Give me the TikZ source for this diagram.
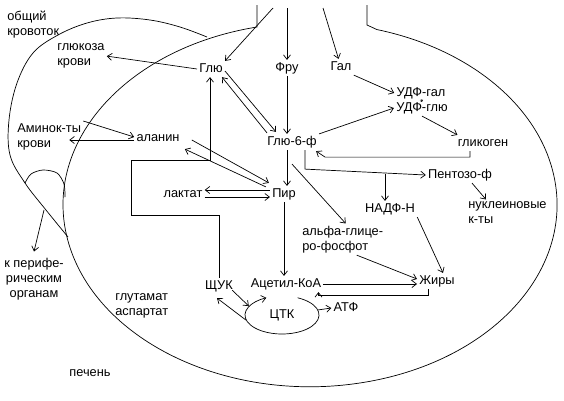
\documentclass[tikz,border=0pt]{standalone}
\usepackage{fontspec}
\setmainfont{Liberation Sans}
\usetikzlibrary{arrows.meta, shapes.geometric, calc}

\begin{document}
\begin{tikzpicture}[x=1pt, y=-1pt, line width=0.7pt,
    >={Straight Barb[length=4.5pt, width=7pt]},
    met/.style={inner sep=2pt, text height=9pt, text depth=2.5pt,
                font=\fontsize{12.8}{15}\selectfont},
    note/.style={inner sep=2pt, align=left, font=\fontsize{12.8}{15}\selectfont},
  ]
    \useasboundingbox (0,0) rectangle (564,400);

    % liver and circulation
    \draw (257,5) -- (257,27)
      arc[start angle=257.6, end angle=-74.3, x radius=247, y radius=182]
      -- (367,25) -- (367,5);
    \draw plot[smooth, tension=0.6] coordinates {(207,37) (180,27) (150,20)
      (117,18) (87,23) (58,35) (33,53) (17,83) (9,120) (10,155) (25,183)
      (46,210) (68,237)};
    \draw plot[smooth] coordinates {(25,183) (31,174) (43,170) (57,173)
      (64,184) (65,197)};

    \coordinate (pa) at (273,8);
    \coordinate (pf) at (287,8);
    \coordinate (pg) at (323,8);
    \coordinate (lp) at (44,210);

    \node[note, anchor=north west] (obsh) at (5,9) {общий\\кровоток};
    \node[note, anchor=north west] (glkrov) at (55,41.5) {глюкоза\\крови};
    \node[note, anchor=north west] (amin) at (15,121) {Аминок-ты\\крови};
    \node[note, align=center, anchor=north] (kperif) at (34,255.5)
      {к перифе-\\рическим\\органам};
    \node[note, anchor=north west] (glut) at (113,291.5) {глутамат\\аспартат};
    \node[met] (pechen) at (90,373) {печень};

    \node[met] (glu) at (211,69) {Глю};
    \node[met] (fru) at (287,68) {Фру};
    \node[met] (gal) at (341,67) {Гал};
    \node[met] (udfgal) at (421,93) {УДФ-гал};
    \node[met] (udfglu) at (422,108) {УДФ-глю};
    \node[met] (glik) at (483,143) {гликоген};
    \node[met] (g6f) at (292,142) {Глю-6-ф};
    \node[met] (pent) at (460,175) {Пентозо-ф};
    \node[met] (nadf) at (390,209) {НАДФ-Н};
    \node[note, anchor=north west] (nukl) at (466,199.5) {нуклеиновые\\к-ты};
    \node[met] (alan) at (158,138) {аланин};
    \node[met] (lakt) at (183,194) {лактат};
    \node[met] (pir) at (284,194) {Пир};
    \node[note, anchor=north west] (alfa) at (300,223.5) {альфа-глице-\\ро-фосфот};
    \node[met] (acet) at (286,284) {Ацетил-КоА};
    \node[met] (zhir) at (437,281) {Жиры};
    \node[met] (shchuk) at (219,286) {ЩУК};
    \node[met, ellipse, minimum width=74pt, minimum height=38pt, inner sep=0pt]
      (tck) at (282,315) {ЦТК};
    \node[met] (atf) at (346,308) {АТФ};

    \draw[->] (pa) -- (glu.north east);
    \draw[->] (pf) -- (fru);
    \draw[->] (pg) -- (gal);
    \draw[->] (lp) -- ([yshift=4pt]kperif.north);

    \draw[->] (glu.west) -- (glkrov.east);
    \draw[->] (amin.north east) -- ([yshift=1pt]alan.west);
    \draw[->] ([yshift=-2pt]alan.west) -- ($(amin.east |- alan.west)+(-14,2)$);

    \draw[->] ([yshift=-2pt]glu.east) -- ([shift={(-16,-2)}]g6f.north);
    \draw[->] ([shift={(-25,-1)}]g6f.north) -- ([xshift=-3pt]glu.south east);
    \draw[->] (fru.south) -- (fru.south |- g6f.north);
    \draw[->] (gal.south east) -- (udfgal.west);
    \draw[->] (g6f.north east) -- (udfglu.west);
    \draw[-{Straight Barb[length=1.5pt, width=3pt]}, line width=0.5pt]
      ([yshift=2pt]udfgal.south) -- ([yshift=-2pt]udfglu.north);
    \draw[->] (udfglu.south) -- ([xshift=2pt]glik.north west);
    \draw[->] ([xshift=-13pt]glik.south) |- ([shift={(6,7)}]g6f.south east)
      -- ([shift={(-3,1)}]g6f.south east);
    \draw[->] ([xshift=13pt]g6f.south) -- ++(0,19) -- (pent.west);
    \draw[->] ([xshift=-5pt]nadf.north) ++(0,-27) -- ([xshift=-5pt]nadf.north);
    \draw[->] ([xshift=12pt]pent.south) -- ([xshift=20pt]nukl.north west);
    \draw[->] (nadf.south east) -- ([xshift=6pt]zhir.north);

    \draw[->] ([xshift=-5pt]g6f.south) -- ([xshift=3pt]pir.north);
    \draw[->] ([yshift=-14pt]g6f.south) -- ([xshift=3pt]alfa.north);
    \draw[->] ([xshift=14pt]alfa.south) -- ([yshift=2pt]zhir.west);

    \draw[->] ([shift={(10,2)}]alan.east) -- ([shift={(-1,-3)}]pir.north west);
    \draw[->] ([shift={(-4,1)}]pir.north west) -- ([shift={(3,3)}]alan.south east);
    \draw[->] ([yshift=4pt]pir.west) -- ([yshift=4pt]lakt.east);
    \draw[->] ([yshift=-3pt]lakt.east) -- ([yshift=-3pt]pir.west);

    \draw[->] (pir.south) -- (pir.south |- acet.north);
    \draw[->] (acet.east) -- (acet.east -| zhir.west);
    \draw[->] ([xshift=-9pt]zhir.south) -- ++(0,6) -| ([xshift=-5pt]acet.south east);

    \draw[->] (shchuk.north) -- ++(0,-63) -| ++(-88,-55) -| ([xshift=-1pt]glu.south);
    \draw[->] ([shift={(-3,-4)}]shchuk.south east) -- (tck.165);
    \draw[->] (tck.188) -- ([shift={(-2,4)}]shchuk.south);
    \draw[->] (tck.center) ++(-65:37 and 19)
      arc[start angle=-65, end angle=245, x radius=37, y radius=19];
    \draw[->] (tck.8) -- (atf.west);
  \end{tikzpicture}
\end{document}
